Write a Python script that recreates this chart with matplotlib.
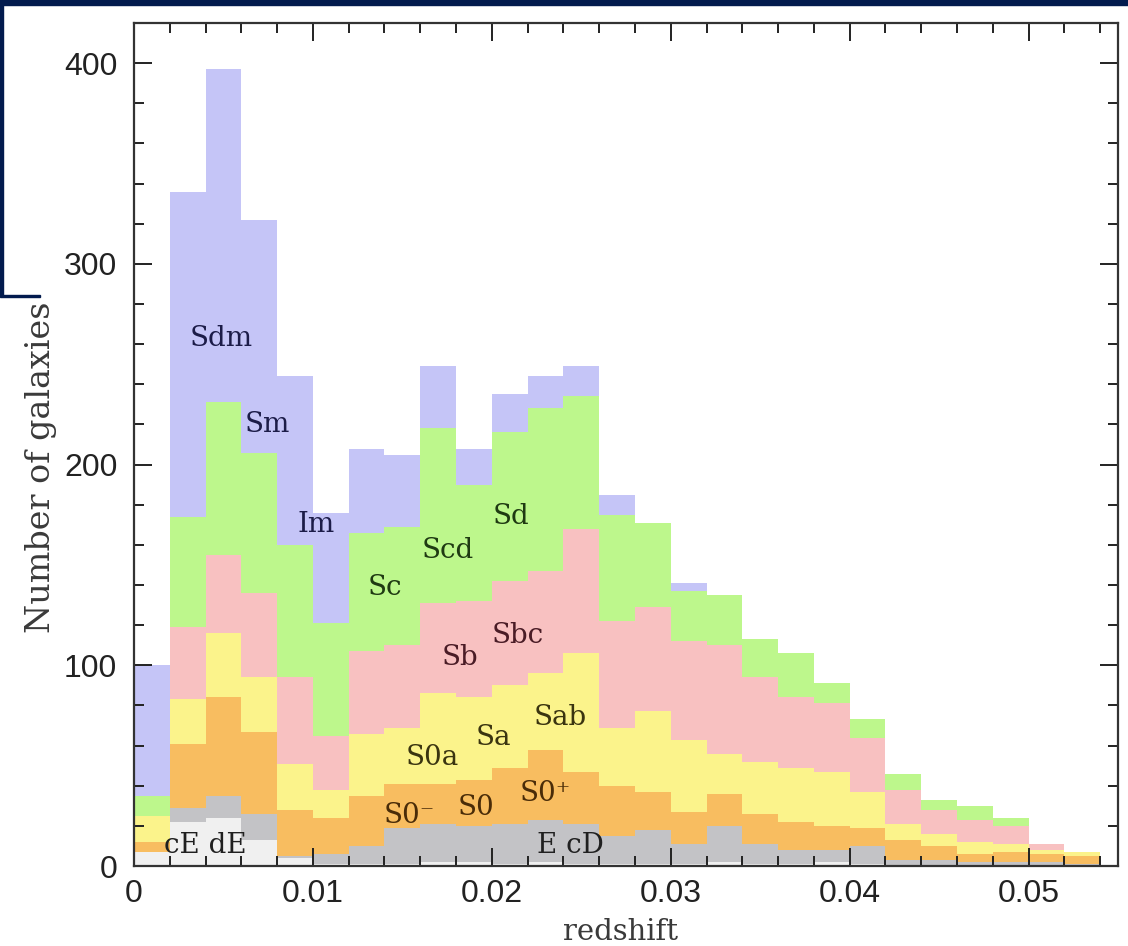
import matplotlib.pyplot as plt
import numpy as np
from matplotlib.ticker import MultipleLocator
from matplotlib.patches import Rectangle

# redshift bins, width 0.002
edges = np.arange(0, 0.0541, 0.002)

# counts per bin for each morphological group, bottom to top
cE_dE = [7, 22, 24, 13, 4, 1, 1, 1, 2, 2, 1, 2, 1, 1, 1, 1, 2, 1, 1, 2, 1, 0, 0, 0, 0, 0, 0]
E_cD = [0, 7, 11, 13, 1, 5, 9, 18, 19, 18, 20, 21, 20, 14, 17, 10, 18, 10, 7, 6, 9, 3, 3, 2, 2, 2, 1]
S0 = [5, 32, 49, 41, 23, 18, 25, 22, 20, 23, 28, 35, 26, 25, 19, 16, 16, 15, 14, 12, 9, 10, 7, 4, 5, 4, 4]
S0a_Sab = [13, 22, 32, 27, 23, 14, 31, 28, 45, 41, 41, 38, 59, 29, 40, 36, 20, 26, 27, 27, 18, 8, 6, 6, 4, 2, 2]
Sb_Sbc = [0, 36, 39, 42, 43, 27, 41, 41, 45, 48, 52, 51, 62, 53, 52, 49, 54, 42, 35, 34, 27, 17, 12, 11, 9, 3, 0]
Sc_Sd = [10, 55, 76, 70, 66, 56, 59, 59, 87, 58, 74, 81, 66, 53, 42, 25, 25, 19, 22, 10, 9, 8, 5, 7, 4, 0, 0]
Sdm_Im = [65, 162, 166, 116, 84, 55, 42, 36, 31, 18, 19, 16, 15, 10, 0, 4, 0, 0, 0, 0, 0, 0, 0, 0, 0, 0, 0]

layers = [cE_dE, E_cD, S0, S0a_Sab, Sb_Sbc, Sc_Sd, Sdm_Im]
colors = ['#f0f0f0', '#c3c3c6', '#f8bd60', '#fbf38b', '#f8c1c1', '#bdf78c', '#c5c5f7']

# type labels: text, x, y, colour
labels = [
    ('Sdm', 0.00486, 263, '#1c1c48'),
    ('Sm', 0.00743, 220, '#1c1c48'),
    ('Im', 0.01017, 170, '#1c1c48'),
    ('Sc', 0.0140, 139, '#1f3a12'),
    ('Scd', 0.01754, 157, '#1f3a12'),
    ('Sd', 0.02106, 174, '#1f3a12'),
    ('Sb', 0.01821, 104, '#4a1c26'),
    ('Sbc', 0.02145, 115, '#4a1c26'),
    ('S0a', 0.01665, 54, '#3a3410'),
    ('Sa', 0.02006, 64, '#3a3410'),
    ('Sab', 0.0238, 74, '#3a3410'),
    ('S0\u207b', 0.0154, 25, '#4a2c08'),
    ('S0', 0.0191, 29, '#4a2c08'),
    ('S0\u207a', 0.0230, 36, '#4a2c08'),
    ('E cD', 0.0244, 10, '#202020'),
    ('cE dE', 0.00397, 10, '#202020'),
]

fig = plt.figure(figsize=(11.28, 9.46), dpi=100)
ax = fig.add_axes([134 / 1128, 80 / 946, 984 / 1128, 843 / 946])

# paint cumulative totals from the top group down so the layers never leave seams
totals = np.cumsum(np.array(layers), axis=0)
for top, c in list(zip(totals, colors))[::-1]:
    ax.stairs(top, edges, baseline=0, fill=True, color=c, linewidth=0)

for text, x, y, c in labels:
    ax.text(x, y, text, ha='center', va='center', fontsize=20, color=c, family='DejaVu Serif')

ax.set_xlim(0, 0.055)
ax.set_ylim(0, 420)
ax.xaxis.set_major_locator(MultipleLocator(0.01))
ax.xaxis.set_minor_locator(MultipleLocator(0.002))
ax.yaxis.set_major_locator(MultipleLocator(100))
ax.yaxis.set_minor_locator(MultipleLocator(20))
ax.set_xticks([0, 0.01, 0.02, 0.03, 0.04, 0.05])
ax.set_xticklabels(['0', '0.01', '0.02', '0.03', '0.04', '0.05'])
ax.tick_params(which='both', direction='in', top=True, right=True, color='#222222', width=1.4)
ax.tick_params(which='major', length=13, labelsize=23, pad=9)
ax.tick_params(which='minor', length=7)
ax.tick_params(axis='y', which='major', pad=12)
for lab in ax.get_xticklabels() + ax.get_yticklabels():
    lab.set_family('Liberation Sans')
    lab.set_color('#222222')
for sp in ax.spines.values():
    sp.set_linewidth(1.6)
    sp.set_color('#333333')

ax.set_xlabel('redshift', fontsize=21, family='DejaVu Serif', color='#3a3a3a')
ax.set_ylabel('Number of galaxies', fontsize=24, family='DejaVu Serif', color='#3a3a3a')
ax.xaxis.set_label_coords(0.494, -0.062)
ax.yaxis.set_label_coords(-0.078, 0.473)

# dark frame along the top and left edges
navy = '#021b4e'
fig.patches.append(Rectangle((0, 1 - 5 / 946), 1, 5 / 946, transform=fig.transFigure, color=navy))
fig.patches.append(Rectangle((0, 1 - 296 / 946), 3 / 1128, 296 / 946, transform=fig.transFigure, color=navy))
fig.patches.append(Rectangle((0, 1 - 297 / 946), 40 / 1128, 2 / 946, transform=fig.transFigure, color=navy))

fig.savefig('out.png', dpi=100)
